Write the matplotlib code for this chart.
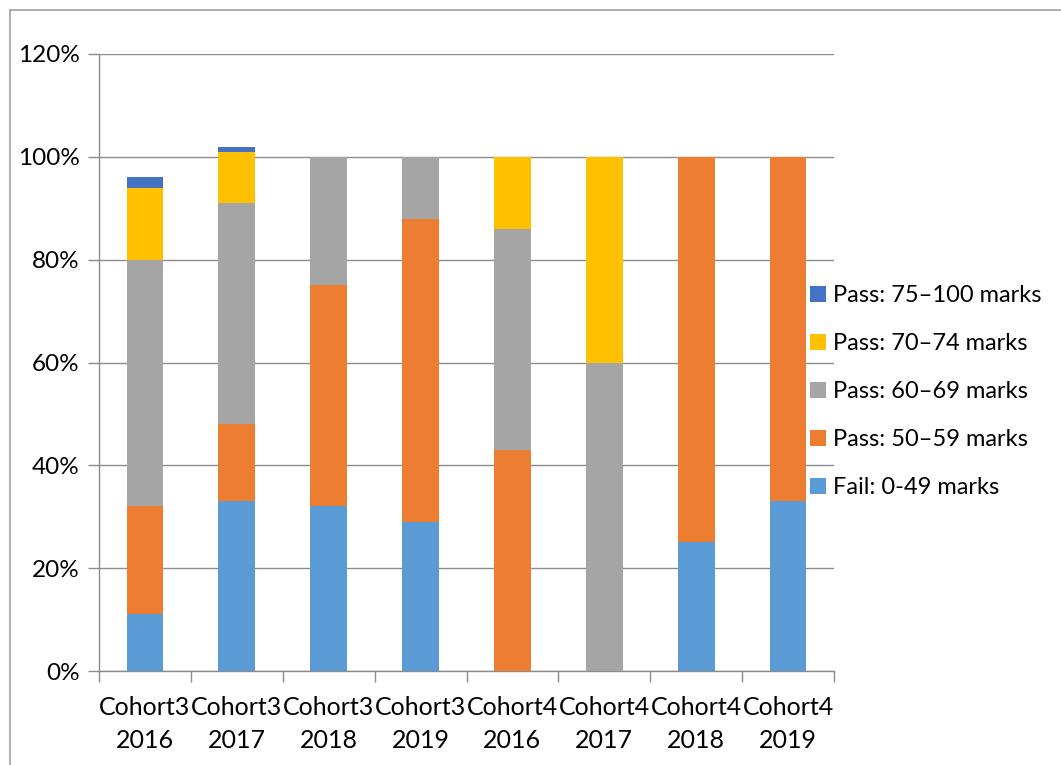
import numpy as np
import matplotlib.pyplot as plt

# cohort / year categories
groups = ['Cohort3\n2016', 'Cohort3\n2017', 'Cohort3\n2018', 'Cohort3\n2019',
          'Cohort4\n2016', 'Cohort4\n2017', 'Cohort4\n2018', 'Cohort4\n2019']

# percentage of students in each mark band
fail_0_49 = [11, 33, 32, 29, 0, 0, 25, 33]
pass_50_59 = [21, 15, 43, 59, 43, 0, 75, 67]
pass_60_69 = [48, 43, 25, 12, 43, 60, 0, 0]
pass_70_74 = [14, 10, 0, 0, 14, 40, 0, 0]
pass_75_100 = [2, 1, 0, 0, 0, 0, 0, 0]

series = [fail_0_49, pass_50_59, pass_60_69, pass_70_74, pass_75_100]
labels = ['Fail: 0-49 marks', 'Pass: 50\u201359 marks', 'Pass: 60\u201369 marks',
          'Pass: 70\u201374 marks', 'Pass: 75\u2013100 marks']
colors = ['#5B9BD5', '#ED7D31', '#A5A5A5', '#FFC000', '#4472C4']

plt.rcParams['font.family'] = ['Lato', 'DejaVu Sans']

W, H = 1061, 765
fig = plt.figure(figsize=(W / 100, H / 100), dpi=100)
# plot area in pixels: x 99..834, y 54..671
ax = fig.add_axes([99 / W, 1 - 671 / H, (834 - 99) / W, (671 - 54) / H])

x = np.arange(len(groups))
bottom = np.zeros(len(groups))
handles = []
for vals, lab, col in zip(series, labels, colors):
    v = np.array(vals, dtype=float)
    b = ax.bar(x, v, 0.4, bottom=bottom, color=col, label=lab, zorder=3)
    handles.append(b)
    bottom += v

ax.set_xlim(-0.5, len(groups) - 0.5)
ax.set_ylim(0, 120)
ax.set_yticks(np.arange(0, 121, 20))
ax.set_yticklabels([f'{t}%' for t in range(0, 121, 20)])
ax.yaxis.grid(True, color='#8c8c8c', linewidth=1, zorder=0)
ax.set_xticks(x)
ax.set_xticklabels(groups, linespacing=1.5)
ax.set_xticks(np.arange(-0.5, len(groups)), minor=True)
ax.tick_params(axis='x', which='major', length=0, pad=18, labelsize=18)
ax.tick_params(axis='x', which='minor', length=8, color='#8c8c8c', width=1)
ax.tick_params(axis='y', length=8, color='#8c8c8c', width=1, pad=6, labelsize=17.5)

for s in ['top', 'right']:
    ax.spines[s].set_visible(False)
for s in ['left', 'bottom']:
    ax.spines[s].set_color('#8c8c8c')
    ax.spines[s].set_linewidth(1)

# outer chart border (only top and left edges visible in the crop)
fig.add_artist(plt.Line2D([10 / W, 1], [1 - 10 / H, 1 - 10 / H], color='#a0a0a0', lw=1.2,
                          transform=fig.transFigure))
fig.add_artist(plt.Line2D([10 / W, 10 / W], [0, 1 - 10 / H], color='#a0a0a0', lw=1.2,
                          transform=fig.transFigure))

leg = fig.legend(handles[::-1], labels[::-1], loc='upper left',
                 bbox_to_anchor=(801 / W, 1 - 276 / H), frameon=False, fontsize=17,
                 handlelength=0.65, handleheight=0.65, handletextpad=0.3,
                 labelspacing=1.14, borderaxespad=0)

fig.savefig('out.png', dpi=100)
